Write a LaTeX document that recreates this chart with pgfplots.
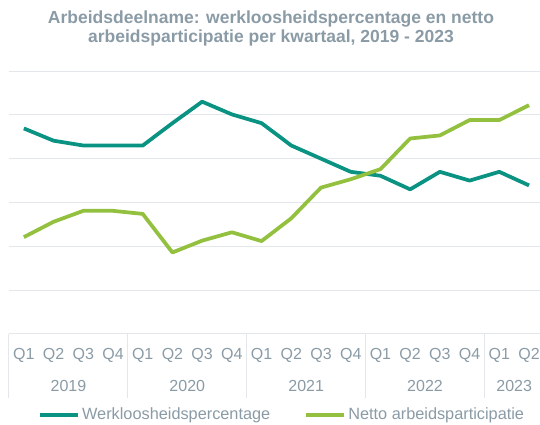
\documentclass[border=0pt]{standalone}
\usepackage{pgfplots}
\pgfplotsset{compat=1.18}
\usepackage{fontspec}
\setmainfont{Liberation Sans}
\definecolor{teal1}{HTML}{0A9282}
\definecolor{green1}{HTML}{93C13F}
\definecolor{txtgray}{HTML}{8A9BA6}
\definecolor{gridc}{HTML}{E3E7EB}
\begin{document}
\begin{tikzpicture}[x=1pt,y=1pt]
\useasboundingbox (0,0) rectangle (540,425);
\node[align=center, text=txtgray, font=\bfseries\fontsize{17.5}{19.5}\selectfont] at (271,396.5)
  {Arbeidsdeelname: werkloosheidspercentage en netto\\arbeidsparticipatie per kwartaal, 2019 - 2023};
\begin{axis}[
  at={(9pt,91pt)}, anchor=south west,
  scale only axis, width=531pt, height=263pt,
  xmin=-0.5, xmax=17.37, ymin=0, ymax=6,
  clip=false,
  axis x line*=bottom, axis y line*=left,
  x axis line style={draw=gridc, line width=1pt, -},
  y axis line style={draw=none},
  ytick={0,1,...,6}, yticklabels={},
  ymajorgrids, grid style={draw=gridc, line width=1pt},
  xtick={0,...,17},
  xticklabels={Q1,Q2,Q3,Q4,Q1,Q2,Q3,Q4,Q1,Q2,Q3,Q4,Q1,Q2,Q3,Q4,Q1,Q2},
  major tick length=0pt,
  xticklabel style={text=txtgray, font=\fontsize{16}{18}\selectfont, anchor=base, yshift=-26pt},
  legend columns=2,
  legend style={draw=none, fill=none, at={(axis description cs:0.03,0)}, anchor=west, xshift=13pt, yshift=-80.5pt,
    font=\fontsize{16.3}{18}\selectfont, text=txtgray, inner sep=0pt,
    nodes={inner sep=2pt},
    /tikz/every even column/.append style={column sep=32pt}},
  legend image code/.code={\draw[#1, line width=4pt] (0pt,0pt) -- (38pt,0pt);},
]
\addplot[teal1, line width=3.75pt, line join=round] coordinates {
(0,4.69) (1,4.41) (2,4.30) (3,4.30) (4,4.30) (5,4.81) (6,5.30) (7,5.01)
(8,4.81) (9,4.30) (10,4.00) (11,3.70) (12,3.61) (13,3.30) (14,3.70) (15,3.50)
(16,3.70) (17,3.39)};
\addlegendentry{Werkloosheidspercentage}
\addplot[green1, line width=3.75pt, line join=round] coordinates {
(0,2.21) (1,2.56) (2,2.81) (3,2.81) (4,2.74) (5,1.86) (6,2.13) (7,2.32)
(8,2.12) (9,2.64) (10,3.34) (11,3.53) (12,3.76) (13,4.46) (14,4.53) (15,4.88)
(16,4.88) (17,5.22)};
\addlegendentry{Netto arbeidsparticipatie}
\pgfplotsinvokeforeach{-0.5,3.5,7.5,11.5,15.5}{
  \draw[gridc, line width=1pt] (axis cs:#1,0) -- ([yshift=-64pt]axis cs:#1,0);
}
\node[anchor=base, text=txtgray, font=\fontsize{16}{18}\selectfont] at ([yshift=-57pt]axis cs:1.5,0) {2019};
\node[anchor=base, text=txtgray, font=\fontsize{16}{18}\selectfont] at ([yshift=-57pt]axis cs:5.5,0) {2020};
\node[anchor=base, text=txtgray, font=\fontsize{16}{18}\selectfont] at ([yshift=-57pt]axis cs:9.5,0) {2021};
\node[anchor=base, text=txtgray, font=\fontsize{16}{18}\selectfont] at ([yshift=-57pt]axis cs:13.5,0) {2022};
\node[anchor=base, text=txtgray, font=\fontsize{16}{18}\selectfont] at ([yshift=-57pt]axis cs:16.5,0) {2023};
\end{axis}
\end{tikzpicture}
\end{document}
